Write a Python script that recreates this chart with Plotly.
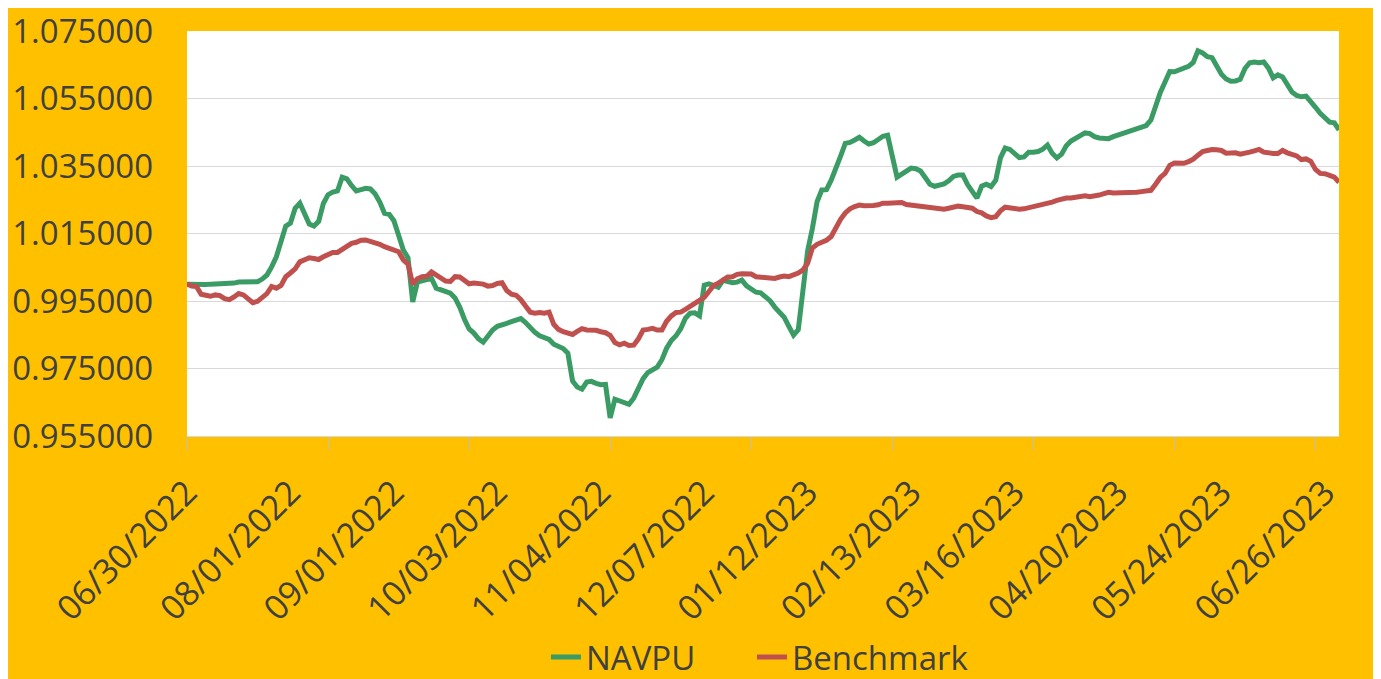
import plotly.graph_objects as go

navpu = [
    1.0000, 0.9999, 0.9999, 0.9999, 0.9999, 1.0000, 1.0000, 1.0000, 1.0000, 1.0000,
    1.0003, 1.0006, 1.0006, 1.0006, 1.0006, 1.0007, 1.0015, 1.0027, 1.0051, 1.0081,
    1.0126, 1.0172, 1.0181, 1.0225, 1.0240, 1.0205, 1.0178, 1.0172, 1.0186, 1.0239,
    1.0265, 1.0273, 1.0276, 1.0317, 1.0312, 1.0292, 1.0276, 1.0280, 1.0284, 1.0282,
    1.0268, 1.0243, 1.0210, 1.0207, 1.0188, 1.0145, 1.0101, 1.0078, 0.9947, 1.0006,
    1.0010, 1.0014, 1.0017, 0.9988, 0.9984, 0.9979, 0.9973, 0.9959, 0.9932, 0.9896,
    0.9867, 0.9855, 0.9838, 0.9828, 0.9845, 0.9864, 0.9875, 0.9878, 0.9884, 0.9889,
    0.9894, 0.9898, 0.9886, 0.9871, 0.9857, 0.9847, 0.9843, 0.9836, 0.9822, 0.9815,
    0.9809, 0.9795, 0.9713, 0.9695, 0.9689, 0.9710, 0.9712, 0.9706, 0.9702, 0.9703,
    0.9604, 0.9659, 0.9654, 0.9647, 0.9644, 0.9662, 0.9692, 0.9720, 0.9738, 0.9745,
    0.9754, 0.9776, 0.9810, 0.9833, 0.9847, 0.9868, 0.9899, 0.9914, 0.9915, 0.9906,
    0.9997, 1.0001, 0.9996, 0.9991, 1.0011, 1.0006, 1.0004, 1.0006, 1.0012, 0.9995,
    0.9984, 0.9976, 0.9974, 0.9964, 0.9951, 0.9932, 0.9916, 0.9902, 0.9875, 0.9849,
    0.9865, 0.9999, 1.0099, 1.0165, 1.0244, 1.0279, 1.0280, 1.0308, 1.0341, 1.0379,
    1.0417, 1.0420, 1.0427, 1.0435, 1.0424, 1.0415, 1.0419, 1.0429, 1.0438, 1.0441,
    1.0373, 1.0317, 1.0326, 1.0337, 1.0344, 1.0342, 1.0335, 1.0316, 1.0296, 1.0290,
    1.0294, 1.0297, 1.0306, 1.0319, 1.0323, 1.0323, 1.0295, 1.0272, 1.0255, 1.0290,
    1.0296, 1.0289, 1.0308, 1.0374, 1.0403, 1.0399, 1.0389, 1.0375, 1.0377, 1.0391,
    1.0391, 1.0393, 1.0400, 1.0412, 1.0388, 1.0374, 1.0385, 1.0410, 1.0424, 1.0432,
    1.0440, 1.0448, 1.0446, 1.0437, 1.0433, 1.0431, 1.0431, 1.0437, 1.0442, 1.0448,
    1.0453, 1.0457, 1.0461, 1.0465, 1.0470, 1.0486, 1.0533, 1.0568, 1.0599, 1.0630,
    1.0629, 1.0634, 1.0641, 1.0645, 1.0657, 1.0691, 1.0685, 1.0674, 1.0671, 1.0648,
    1.0622, 1.0608, 1.0601, 1.0602, 1.0607, 1.0639, 1.0656, 1.0658, 1.0656, 1.0658,
    1.0640, 1.0611, 1.0620, 1.0614, 1.0593, 1.0569, 1.0559, 1.0555, 1.0557, 1.0542,
    1.0524, 1.0506, 1.0493, 1.0480, 1.0478, 1.0457,
]

benchmark = [
    1.0000, 0.9994, 0.9993, 0.9970, 0.9967, 0.9964, 0.9968, 0.9966, 0.9957, 0.9954,
    0.9962, 0.9972, 0.9968, 0.9958, 0.9945, 0.9949, 0.9961, 0.9972, 0.9993, 0.9988,
    0.9996, 1.0022, 1.0033, 1.0045, 1.0066, 1.0074, 1.0078, 1.0076, 1.0073, 1.0081,
    1.0089, 1.0094, 1.0094, 1.0104, 1.0113, 1.0121, 1.0124, 1.0130, 1.0131, 1.0127,
    1.0123, 1.0118, 1.0111, 1.0106, 1.0104, 1.0096, 1.0072, 1.0059, 1.0000, 1.0016,
    1.0022, 1.0023, 1.0036, 1.0026, 1.0017, 1.0009, 1.0008, 1.0022, 1.0021, 1.0009,
    1.0001, 1.0003, 1.0003, 1.0000, 0.9994, 0.9996, 1.0002, 1.0004, 0.9981, 0.9970,
    0.9967, 0.9954, 0.9935, 0.9917, 0.9914, 0.9916, 0.9914, 0.9917, 0.9881, 0.9866,
    0.9859, 0.9854, 0.9851, 0.9860, 0.9868, 0.9864, 0.9864, 0.9863, 0.9859, 0.9856,
    0.9848, 0.9827, 0.9820, 0.9825, 0.9818, 0.9819, 0.9838, 0.9864, 0.9866, 0.9869,
    0.9864, 0.9864, 0.9890, 0.9906, 0.9916, 0.9917, 0.9925, 0.9934, 0.9944, 0.9950,
    0.9961, 0.9978, 0.9996, 1.0003, 1.0012, 1.0021, 1.0022, 1.0029, 1.0031, 1.0032,
    1.0030, 1.0022, 1.0021, 1.0021, 1.0021, 1.0017, 1.0021, 1.0024, 1.0022, 1.0026,
    1.0033, 1.0042, 1.0062, 1.0107, 1.0118, 1.0124, 1.0130, 1.0141, 1.0167, 1.0192,
    1.0211, 1.0223, 1.0230, 1.0234, 1.0232, 1.0231, 1.0233, 1.0235, 1.0240, 1.0240,
    1.0240, 1.0243, 1.0242, 1.0236, 1.0234, 1.0234, 1.0232, 1.0229, 1.0228, 1.0225,
    1.0222, 1.0222, 1.0225, 1.0229, 1.0231, 1.0229, 1.0228, 1.0225, 1.0215, 1.0211,
    1.0202, 1.0197, 1.0200, 1.0217, 1.0228, 1.0226, 1.0222, 1.0222, 1.0223, 1.0226,
    1.0229, 1.0233, 1.0236, 1.0239, 1.0243, 1.0248, 1.0253, 1.0255, 1.0255, 1.0257,
    1.0262, 1.0262, 1.0259, 1.0260, 1.0264, 1.0268, 1.0272, 1.0270, 1.0270, 1.0272,
    1.0271, 1.0269, 1.0272, 1.0274, 1.0276, 1.0278, 1.0296, 1.0316, 1.0328, 1.0352,
    1.0359, 1.0358, 1.0358, 1.0363, 1.0370, 1.0382, 1.0393, 1.0396, 1.0399, 1.0398,
    1.0396, 1.0388, 1.0388, 1.0389, 1.0385, 1.0387, 1.0391, 1.0395, 1.0399, 1.0391,
    1.0388, 1.0387, 1.0387, 1.0396, 1.0389, 1.0385, 1.0380, 1.0369, 1.0371, 1.0364,
    1.0340, 1.0328, 1.0327, 1.0322, 1.0317, 1.0302,
]

date_labels = ["06/30/2022", "08/01/2022", "09/01/2022", "10/03/2022", "11/04/2022",
               "12/07/2022", "01/12/2023", "02/13/2023", "03/16/2023", "04/20/2023",
               "05/24/2023", "06/26/2023"]
y_ticks = [0.955, 0.975, 0.995, 1.015, 1.035, 1.055, 1.075]
label_step = 22
tick_step = 30

idx = list(range(len(navpu)))
label_pos = [i * label_step for i in range(len(date_labels))]
tick_pos = list(range(0, len(navpu), tick_step))
y_text = ["%.6f" % v for v in y_ticks]

TXT = "#404040"
FONT = "Open Sans"

fig = go.Figure()
fig.add_trace(go.Scatter(x=idx, y=navpu, mode="lines", name="NAVPU", legendwidth=161,
                         line=dict(color="#3A9C64", width=5)))
fig.add_trace(go.Scatter(x=idx, y=benchmark, mode="lines", name="Benchmark",
                         legendwidth=185, xaxis="x2",
                         line=dict(color="#C0504D", width=5)))

xr = [0, len(navpu) - 1]
fig.update_layout(
    width=1381, height=700,
    margin=dict(l=179, r=50, t=23, b=272),
    paper_bgcolor="#FFC000",
    plot_bgcolor="white",
    font=dict(family=FONT, size=33, color=TXT),
    xaxis=dict(range=xr, tickmode="array", tickvals=label_pos, ticktext=date_labels,
               tickangle=-45, ticks="", showgrid=False, zeroline=False,
               showline=True, linecolor="#D9D9D9", linewidth=1, ticklabelstandoff=22,
               ticklabeloverflow="allow",
               tickfont=dict(family=FONT, size=34, color=TXT), automargin=False),
    xaxis2=dict(range=xr, overlaying="x", anchor="y", side="bottom",
                tickmode="array", tickvals=tick_pos, showticklabels=False,
                ticks="outside", ticklen=13, tickcolor="#BFBFBF", tickwidth=1,
                showgrid=False, zeroline=False, showline=False),
    yaxis=dict(range=[y_ticks[0], y_ticks[-1]], tickmode="array", tickvals=y_ticks,
               ticktext=y_text, ticklabeloverflow="allow",
               showgrid=True, gridcolor="#D9D9D9", gridwidth=1, zeroline=False,
               showline=False, ticks="", ticklabelstandoff=33,
               tickfont=dict(family=FONT, size=33, color=TXT), automargin=False),
    showlegend=True,
    legend=dict(orientation="h", x=0.3116, xanchor="left", y=-0.546, yanchor="middle",
                bgcolor="rgba(0,0,0,0)", font=dict(family=FONT, size=33, color=TXT)),
)

fig.write_html("out.html")
